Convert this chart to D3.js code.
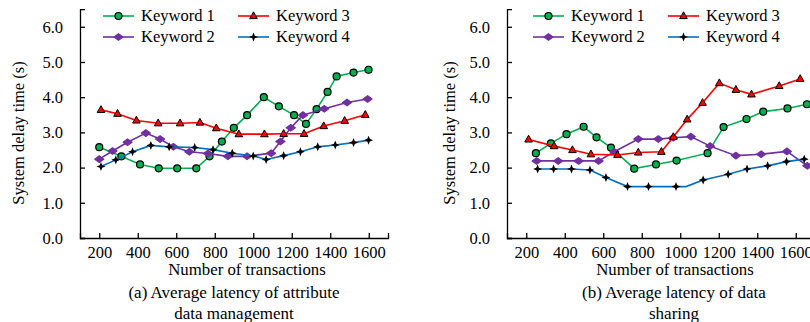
<!DOCTYPE html>
<html lang="en">
<head>
  <meta charset="UTF-8">
  <title>latency</title>
  <script src="https://cdn.jsdelivr.net/npm/d3@7"></script>
  <style>
    html, body { margin: 0; padding: 0; background: #fff; }
    svg { display: block; font-family: "Liberation Serif", "Times New Roman", serif; }
  </style>
</head>
<body>
  <svg id="chart"></svg>
<script>
  const width = 810, height = 322;

  // ticks
  const xTicks = [200, 400, 600, 800, 1000, 1200, 1400, 1600];
  const yTicks = [0, 1, 2, 3, 4, 5, 6];
  const keywords = ['Keyword 1', 'Keyword 2', 'Keyword 3', 'Keyword 4'];

  // (a) attribute data management
  const aK1x = [200, 315, 412, 509, 605, 704, 773, 837, 899, 968, 1055, 1133, 1212, 1274, 1329, 1386, 1433, 1521, 1599];
  const aK1y = [2.58, 2.32, 2.09, 1.98, 1.98, 1.98, 2.32, 2.74, 3.13, 3.49, 4.0, 3.74, 3.49, 3.24, 3.66, 4.15, 4.59, 4.7, 4.78];
  const aK2x = [200, 269, 347, 442, 516, 585, 668, 765, 868, 968, 1093, 1141, 1195, 1258, 1369, 1487, 1594];
  const aK2y = [2.24, 2.47, 2.72, 2.98, 2.81, 2.59, 2.45, 2.40, 2.32, 2.32, 2.41, 2.74, 3.13, 3.49, 3.67, 3.85, 3.95];
  const aK3x = [209, 295, 393, 506, 620, 723, 808, 925, 1058, 1158, 1264, 1366, 1475, 1582];
  const aK3y = [3.64, 3.53, 3.34, 3.26, 3.26, 3.28, 3.12, 2.95, 2.95, 2.96, 2.96, 3.18, 3.33, 3.5];
  const aK4x = [209, 286, 373, 468, 563, 696, 791, 891, 1000, 1067, 1158, 1245, 1335, 1426, 1521, 1599];
  const aK4y = [2.03, 2.22, 2.45, 2.63, 2.59, 2.57, 2.51, 2.41, 2.33, 2.23, 2.34, 2.45, 2.59, 2.64, 2.71, 2.78];

  // (b) data sharing
  const bK1x = [250, 328, 409, 498, 565, 640, 761, 874, 981, 1142, 1225, 1344, 1431, 1557, 1658];
  const bK1y = [2.41, 2.69, 2.95, 3.16, 2.86, 2.57, 1.97, 2.09, 2.2, 2.41, 3.15, 3.38, 3.59, 3.68, 3.8];
  const bK2x = [254, 366, 472, 576, 657, 782, 886, 964, 1055, 1155, 1289, 1420, 1554, 1660];
  const bK2y = [2.19, 2.19, 2.19, 2.19, 2.45, 2.81, 2.81, 2.85, 2.88, 2.61, 2.34, 2.38, 2.46, 2.05];
  const bK3x = [212, 345, 440, 536, 674, 782, 902, 964, 1036, 1116, 1203, 1289, 1370, 1514, 1623];
  const bK3y = [2.8, 2.61, 2.5, 2.38, 2.36, 2.43, 2.45, 2.87, 3.37, 3.84, 4.4, 4.21, 4.08, 4.32, 4.52];
  const bK4x = [259, 342, 435, 531, 614, 726, 835, 978, 1030, 1119, 1249, 1347, 1454, 1552, 1644];
  const bK4y = [1.96, 1.96, 1.96, 1.93, 1.72, 1.46, 1.46, 1.46, 1.46, 1.65, 1.81, 1.96, 2.05, 2.17, 2.24];
  const bK4bare = [1030]; // bend in the line, no marker drawn there

  const colors = ['#00b050', '#7030a0', '#ff0000', '#0070c0'];

  const svg = d3.select('#chart').attr('width', width).attr('height', height);
  svg.append('rect').attr('width', width).attr('height', height).attr('fill', '#fff');

  // marker shapes
  const markerFns = [
    g => g.append('circle').attr('r', 3.5).attr('fill', '#00b050').attr('stroke', '#000').attr('stroke-width', 1.2),
    g => g.append('path').attr('d', 'M-4.5,0L0,-3.3L4.5,0L0,3.3Z').attr('fill', '#7030a0').attr('stroke', '#7030a0').attr('stroke-width', 1.2).attr('stroke-linejoin', 'round'),
    g => g.append('path').attr('d', 'M0,-4.2L3.8,2.6L-3.8,2.6Z').attr('fill', '#ff0000').attr('stroke', '#000').attr('stroke-width', 1),
    g => g.append('path').attr('d', 'M0,-4.5L1.3,-1.3L4.5,0L1.3,1.3L0,4.5L-1.3,1.3L-4.5,0L-1.3,-1.3Z').attr('fill', '#000'),
  ];

  function drawPanel(cfg) {
    const x = d3.scaleLinear().domain([100, 1700]).range([cfg.left, cfg.left + 308]);
    const y = d3.scaleLinear().domain([0, 6.5]).range([238, 9.2]);

    const g = svg.append('g');

    g.append('g')
      .attr('transform', 'translate(0,238)')
      .call(d3.axisBottom(x).tickValues(xTicks).tickFormat(d3.format('d')).tickSizeInner(-5).tickSizeOuter(-5).tickPadding(8))
      .call(s => s.selectAll('text').attr('font-size', 16.5).attr('font-family', 'Liberation Serif').attr('fill', '#000'))
      .call(s => s.selectAll('line,path').attr('stroke', '#000').attr('stroke-width', 1.3));

    g.append('g')
      .attr('transform', `translate(${cfg.left},0)`)
      .call(d3.axisLeft(y).tickValues(yTicks).tickFormat(d3.format('.1f')).tickSizeInner(-5).tickSizeOuter(-5).tickPadding(17))
      .call(s => s.selectAll('text').attr('font-size', 16.5).attr('font-family', 'Liberation Serif').attr('fill', '#000'))
      .call(s => s.selectAll('line,path').attr('stroke', '#000').attr('stroke-width', 1.3));

    const line = d3.line().x(d => x(d[0])).y(d => y(d[1]));

    cfg.series.forEach((s, i) => {
      const pts = s.x.map((v, j) => [v, s.y[j]]);
      g.append('path')
        .attr('d', line(pts))
        .attr('fill', 'none')
        .attr('stroke', colors[i])
        .attr('stroke-width', 1.6);
      pts.filter(p => !(s.bare || []).includes(p[0])).forEach(p => {
        const m = g.append('g').attr('transform', `translate(${x(p[0])},${y(p[1])})`);
        markerFns[i](m);
      });
    });

    // legend, two columns
    const legendPos = [
      [cfg.legX[0], 16], [cfg.legX[0], 37],
      [cfg.legX[1], 16], [cfg.legX[1], 37],
    ];
    keywords.forEach((k, i) => {
      const [lx, ly] = legendPos[i];
      g.append('line')
        .attr('x1', lx).attr('x2', lx + 31)
        .attr('y1', ly).attr('y2', ly)
        .attr('stroke', colors[i]).attr('stroke-width', 1.6);
      markerFns[i](g.append('g').attr('transform', `translate(${lx + 15.5},${ly})`));
      g.append('text')
        .attr('x', lx + 38).attr('y', ly)
        .attr('dy', '0.33em')
        .attr('font-size', 16.5)
        .text(k);
    });

    g.append('text')
      .attr('transform', `translate(${cfg.yTitleX},133) rotate(-90)`)
      .attr('text-anchor', 'middle')
      .attr('font-size', 16.5)
      .text('System delay time (s)');

    g.append('text')
      .attr('x', cfg.xTitleX).attr('y', 275)
      .attr('text-anchor', 'middle')
      .attr('font-size', 16.8)
      .text('Number of transactions');

    cfg.caption.forEach((c, i) => {
      g.append('text')
        .attr('x', cfg.capX).attr('y', 298 + i * 21)
        .attr('text-anchor', 'middle')
        .attr('font-size', 17)
        .text(c);
    });
  }

  drawPanel({
    left: 80,
    legX: [103, 238],
    yTitleX: 24,
    xTitleX: 247,
    capX: 234,
    caption: ['(a) Average latency of attribute', 'data management'],
    series: [
      { x: aK1x, y: aK1y },
      { x: aK2x, y: aK2y },
      { x: aK3x, y: aK3y },
      { x: aK4x, y: aK4y },
    ],
  });

  drawPanel({
    left: 507,
    legX: [533, 668],
    yTitleX: 455,
    xTitleX: 675,
    capX: 674,
    caption: ['(b) Average latency of data', 'sharing'],
    series: [
      { x: bK1x, y: bK1y },
      { x: bK2x, y: bK2y },
      { x: bK3x, y: bK3y },
      { x: bK4x, y: bK4y, bare: bK4bare },
    ],
  });
</script>
</body>
</html>
